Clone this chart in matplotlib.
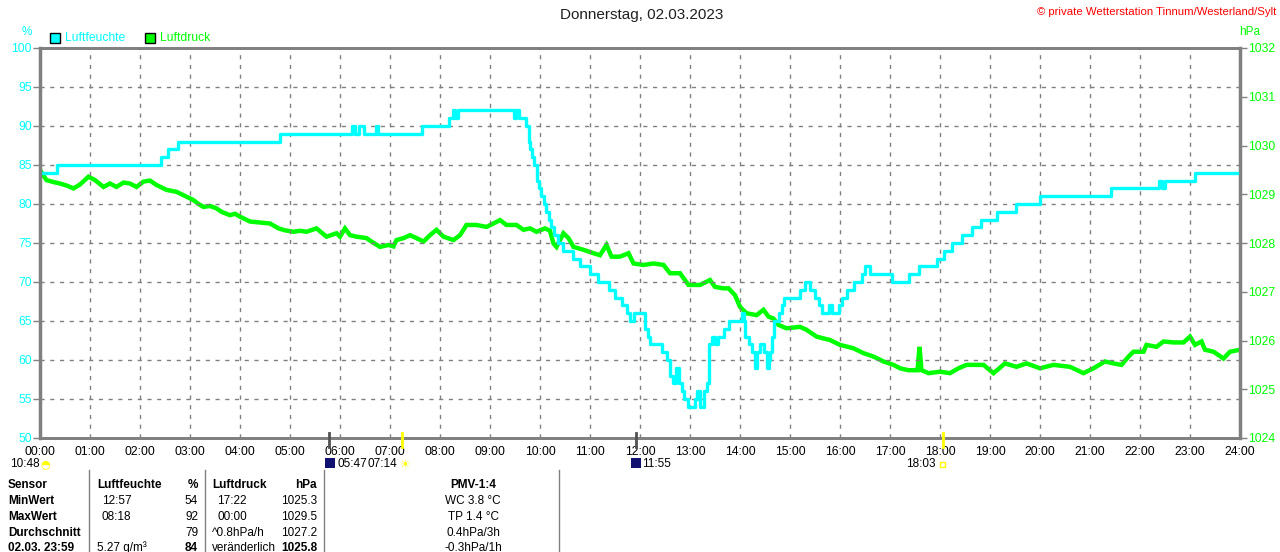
import matplotlib
matplotlib.use("Agg")
import matplotlib.pyplot as plt
import matplotlib.transforms as mtransforms

W, H = 1280, 552
plt.rcParams['font.family'] = ['Liberation Sans', 'DejaVu Sans']

# ---------------- data ----------------
hum_t = [0, 0.33, 2.41, 2.56, 2.76, 4.79, 6.23, 6.30, 6.37, 6.47, 6.72, 6.76,
         7.63, 8.17, 8.25, 8.30, 8.35, 9.47, 9.52, 9.57, 9.62, 9.67, 9.72,
         9.77, 9.80, 9.83, 9.88, 9.93, 9.97, 10.02, 10.07, 10.12, 10.17, 10.22,
         10.27, 10.35, 10.45, 10.65, 10.80, 11.00, 11.15, 11.37, 11.50, 11.63,
         11.73, 11.80, 11.87, 12.10, 12.15, 12.20, 12.43, 12.53, 12.60, 12.65,
         12.72, 12.77, 12.83, 12.87, 12.95, 13.10, 13.13, 13.20, 13.27, 13.33,
         13.37, 13.43, 13.50, 13.55, 13.67, 13.77, 14.03, 14.07, 14.10, 14.17,
         14.23, 14.30, 14.33, 14.40, 14.47, 14.53, 14.57, 14.60, 14.63, 14.67,
         14.77, 14.83, 14.87, 15.20, 15.30, 15.40, 15.50, 15.57, 15.63, 15.77,
         15.83, 15.97, 16.03, 16.13, 16.27, 16.43, 16.50, 16.60, 17.03, 17.37,
         17.57, 17.93, 18.07, 18.23, 18.43, 18.63, 18.83, 19.13, 19.52, 19.99,
         21.41, 22.37, 22.43, 22.50, 23.10, 24.0]
hum_v = [84, 85, 86, 87, 88, 89, 90, 89, 90, 89, 90, 89,
         90, 91, 92, 91, 92, 91, 92, 91, 91, 91, 90,
         88, 87, 86, 85, 83, 82, 81, 80, 79, 78, 77,
         76, 75, 74, 73, 72, 71, 70, 69, 68, 67,
         66, 65, 66, 64, 63, 62, 61, 60, 58, 57,
         59, 57, 56, 55, 54, 55, 56, 54, 56, 57,
         62, 63, 62, 63, 64, 65, 66, 65, 63, 62,
         61, 59, 61, 62, 61, 59, 60, 61, 63, 65,
         66, 67, 68, 69, 70, 69, 68, 67, 66, 67,
         66, 67, 68, 69, 70, 71, 72, 71, 70, 71,
         72, 73, 74, 75, 76, 77, 78, 79, 80, 81,
         82, 83, 82, 83, 84, 84]

prs_t = [0.00, 0.07, 0.13, 0.27, 0.40, 0.53, 0.67, 0.80, 0.97, 1.10, 1.27, 1.40,
         1.53, 1.67, 1.80, 1.93, 2.07, 2.20, 2.33, 2.53, 2.73, 2.93, 3.07, 3.17,
         3.27, 3.40, 3.53, 3.63, 3.80, 3.90, 4.00, 4.20, 4.40, 4.60, 4.77, 4.90,
         5.07, 5.20, 5.33, 5.53, 5.73, 5.93, 6.00, 6.10, 6.20, 6.33, 6.53, 6.63,
         6.80, 6.97, 7.07, 7.13, 7.27, 7.40, 7.53, 7.67, 7.80, 7.93, 8.07, 8.27,
         8.40, 8.53, 8.73, 8.93, 9.07, 9.20, 9.33, 9.53, 9.67, 9.80, 9.93, 10.10,
         10.20, 10.27, 10.33, 10.47, 10.57, 10.67, 10.87, 11.07, 11.20, 11.33,
         11.43, 11.60, 11.77, 11.87, 12.07, 12.27, 12.47, 12.60, 12.80, 12.97,
         13.20, 13.40, 13.50, 13.67, 13.77, 13.90, 14.00, 14.13, 14.33, 14.47,
         14.57, 14.67, 14.77, 14.93, 15.20, 15.33, 15.53, 15.80, 16.00, 16.27,
         16.47, 16.67, 16.87, 17.07, 17.20, 17.37, 17.55, 17.59, 17.63, 17.77,
         18.00, 18.20, 18.37, 18.53, 18.87, 19.07, 19.30, 19.53, 19.73, 20.00,
         20.27, 20.60, 20.87, 21.07, 21.30, 21.47, 21.63, 21.77, 21.87, 22.07,
         22.13, 22.33, 22.47, 22.67, 22.87, 23.00, 23.10, 23.23, 23.30, 23.47,
         23.67, 23.80, 24.00]
prs_v = [1029.50, 1029.38, 1029.29, 1029.25, 1029.22, 1029.18, 1029.12, 1029.20,
         1029.36, 1029.29, 1029.15, 1029.22, 1029.15, 1029.24, 1029.22, 1029.15,
         1029.26, 1029.28, 1029.19, 1029.09, 1029.05, 1028.95, 1028.88, 1028.80,
         1028.74, 1028.76, 1028.71, 1028.64, 1028.57, 1028.60, 1028.54, 1028.44,
         1028.42, 1028.40, 1028.30, 1028.26, 1028.23, 1028.25, 1028.23, 1028.30,
         1028.13, 1028.20, 1028.13, 1028.30, 1028.16, 1028.13, 1028.10, 1028.03,
         1027.92, 1027.96, 1027.93, 1028.06, 1028.10, 1028.16, 1028.10, 1028.03,
         1028.16, 1028.27, 1028.13, 1028.06, 1028.16, 1028.37, 1028.37, 1028.33,
         1028.40, 1028.47, 1028.37, 1028.37, 1028.27, 1028.30, 1028.23, 1028.30,
         1028.25, 1027.99, 1027.92, 1028.20, 1028.10, 1027.92, 1027.86, 1027.79,
         1027.75, 1027.96, 1027.72, 1027.72, 1027.79, 1027.58, 1027.55, 1027.58,
         1027.55, 1027.38, 1027.38, 1027.14, 1027.14, 1027.24, 1027.10, 1027.07,
         1027.07, 1026.93, 1026.69, 1026.56, 1026.52, 1026.63, 1026.49, 1026.45,
         1026.32, 1026.25, 1026.28, 1026.22, 1026.08, 1026.01, 1025.91, 1025.84,
         1025.74, 1025.67, 1025.57, 1025.50, 1025.43, 1025.39, 1025.39, 1025.87,
         1025.39, 1025.33, 1025.36, 1025.33, 1025.43, 1025.50, 1025.50, 1025.33,
         1025.53, 1025.46, 1025.53, 1025.43, 1025.50, 1025.46, 1025.33, 1025.43,
         1025.57, 1025.53, 1025.50, 1025.67, 1025.77, 1025.77, 1025.91, 1025.87,
         1025.98, 1025.96, 1025.96, 1026.08, 1025.91, 1025.98, 1025.81, 1025.77,
         1025.63, 1025.77, 1025.81]

hour_labels = ["%02d:00" % h for h in range(25)]
hum_ticks = [50, 55, 60, 65, 70, 75, 80, 85, 90, 95, 100]
prs_ticks = [1024, 1025, 1026, 1027, 1028, 1029, 1030, 1031, 1032]

# astro events (hours) : moonset 05:47, sunrise 07:14, moonrise 11:55, sunset 18:03
event_t = [5.78, 7.23, 11.92, 18.05]
event_c = ['#505050', '#ffff00', '#505050', '#ffff00']

table_rows = [
    ["Sensor", "Luftfeuchte", "%", "Luftdruck", "hPa", "PMV-1:4"],
    ["MinWert", "12:57", "54", "17:22", "1025.3", "WC 3.8 °C"],
    ["MaxWert", "08:18", "92", "00:00", "1029.5", "TP 1.4 °C"],
    ["Durchschnitt", "", "79", "^0.8hPa/h", "1027.2", "0.4hPa/3h"],
    ["02.03. 23:59", "5.27 g/m³", "84", "veränderlich", "1025.8", "-0.3hPa/1h"],
]

CYAN = '#00ffff'
GREEN = '#00ff00'
GRAY = '#808080'
FS = 8.5

# ---------------- figure ----------------
fig = plt.figure(figsize=(W / 100, H / 100), dpi=100)
fig.patch.set_facecolor('white')

def fx(x):
    return x / W

def fy(y):
    return 1 - y / H

L, R, T, B = 40, 1240, 48, 438
ax = fig.add_axes([fx(L), fy(B), fx(R) - fx(L), fy(T) - fy(B)])
ax2 = ax.twinx()

ax.set_xlim(0, 24)
ax.set_ylim(50, 100)
ax2.set_ylim(1024, 1032)

ax.set_xticks(range(25))
ax.set_xticklabels(hour_labels, fontsize=8.7, color='black')
ax.set_yticks(hum_ticks)
ax.set_yticklabels([str(v) for v in hum_ticks], fontsize=8.7, color=CYAN)
ax2.set_yticks(prs_ticks)
ax2.set_yticklabels([str(v) for v in prs_ticks], fontsize=8.7, color=GREEN)

ax.tick_params(axis='x', length=0, pad=6)
ax.tick_params(axis='y', length=5, width=1, color=GRAY, pad=1)
ax2.tick_params(axis='y', length=5, width=1, color=GRAY, pad=1)

ax.grid(True, color=GRAY, linestyle=(0, (3, 4)), linewidth=1)
for sp in ax.spines.values():
    sp.set_color(GRAY)
    sp.set_linewidth(2)
for sp in ax2.spines.values():
    sp.set_color(GRAY)
    sp.set_linewidth(2)
ax.spines['left'].set_linewidth(2.5)
ax2.spines['right'].set_linewidth(2.5)

ax.set_zorder(2)
ax.patch.set_visible(False)
ax2.set_zorder(1)

ax2.plot(prs_t, prs_v, color=GREEN, linewidth=3.2, solid_joinstyle='miter')
ax.plot(hum_t, hum_v, color=CYAN, linewidth=2.4, drawstyle='steps-post')

# event marks on time axis
trans = mtransforms.blended_transform_factory(ax.transData, ax.transAxes)
for t, c in zip(event_t, event_c):
    ax.plot([t, t], [0.013, -0.022], color=c, linewidth=2, transform=trans,
            clip_on=False, zorder=5)

# ---------------- texts ----------------
fig.text(fx(642), fy(15), "Donnerstag, 02.03.2023", ha='center', va='center',
         fontsize=11, color='#202020')
fig.text(fx(1276), fy(12), "© private Wetterstation Tinnum/Westerland/Sylt",
         ha='right', va='center', fontsize=8.2, color='#ff0000')
fig.text(fx(27), fy(32), "%", ha='center', va='center', fontsize=8.5, color=CYAN)
fig.text(fx(1250), fy(32), "hPa", ha='center', va='center', fontsize=8.5, color=GREEN)

# legend
for x0, col, lab in [(50, CYAN, "Luftfeuchte"), (145, GREEN, "Luftdruck")]:
    fig.patches.append(plt.Rectangle((fx(x0), fy(43)), fx(10), 10 / H,
                                     transform=fig.transFigure,
                                     facecolor=col, edgecolor='black', linewidth=1))
    fig.text(fx(x0 + 15), fy(38), lab, ha='left', va='center', fontsize=8.7, color=col)

# astro text line under axis
fig.text(fx(10), fy(464), "10:48", ha='left', va='center', fontsize=FS)
fig.text(fx(45), fy(464), "\u25d3", ha='center', va='center', fontsize=8,
         color='#ffff00', family=['DejaVu Sans'])
fig.patches.append(plt.Rectangle((fx(325), fy(468)), fx(10), 10 / H,
                                 transform=fig.transFigure, facecolor='#101070',
                                 edgecolor='none'))
fig.text(fx(337), fy(464), "05:47", ha='left', va='center', fontsize=FS)
fig.text(fx(368), fy(464), "07:14", ha='left', va='center', fontsize=FS)
fig.text(fx(404), fy(464), "\u2600", ha='center', va='center', fontsize=8.5,
         color='#ffff00', family=['DejaVu Sans'])
fig.patches.append(plt.Rectangle((fx(631), fy(468)), fx(10), 10 / H,
                                 transform=fig.transFigure, facecolor='#101070',
                                 edgecolor='none'))
fig.text(fx(642), fy(464), "11:55", ha='left', va='center', fontsize=FS)
fig.text(fx(936), fy(464), "18:03", ha='right', va='center', fontsize=FS)
fig.patches.append(plt.Rectangle((fx(940), fy(467)), fx(5), 5 / H,
                                 transform=fig.transFigure, facecolor='none',
                                 edgecolor='#ffff00', linewidth=1))

# table
for xv in [89, 205, 324, 559]:
    fig.add_artist(plt.Line2D([fx(xv), fx(xv)], [fy(470), fy(552)],
                              transform=fig.transFigure, color=GRAY, linewidth=1))

row_y = [485, 501, 517, 533, 548]
col_spec = [(8, 'left'), (97, 'left'), (198, 'right'), (212, 'left'),
            (317, 'right'), (473, 'center')]
for r, (row, yy) in enumerate(zip(table_rows, row_y)):
    for c, (txt, (xx, ha)) in enumerate(zip(row, col_spec)):
        if r > 0 and c in (1, 3) and txt and txt[0].isdigit() and ':' in txt:
            xx += 5
        bold = (r == 0) or c == 0 or (r == 4 and c in (2, 4))
        fig.text(fx(xx), fy(yy), txt, ha=ha, va='center', fontsize=FS,
                 fontweight='bold' if bold else 'normal', color='black')

fig.savefig("out.png", dpi=100, facecolor='white')
